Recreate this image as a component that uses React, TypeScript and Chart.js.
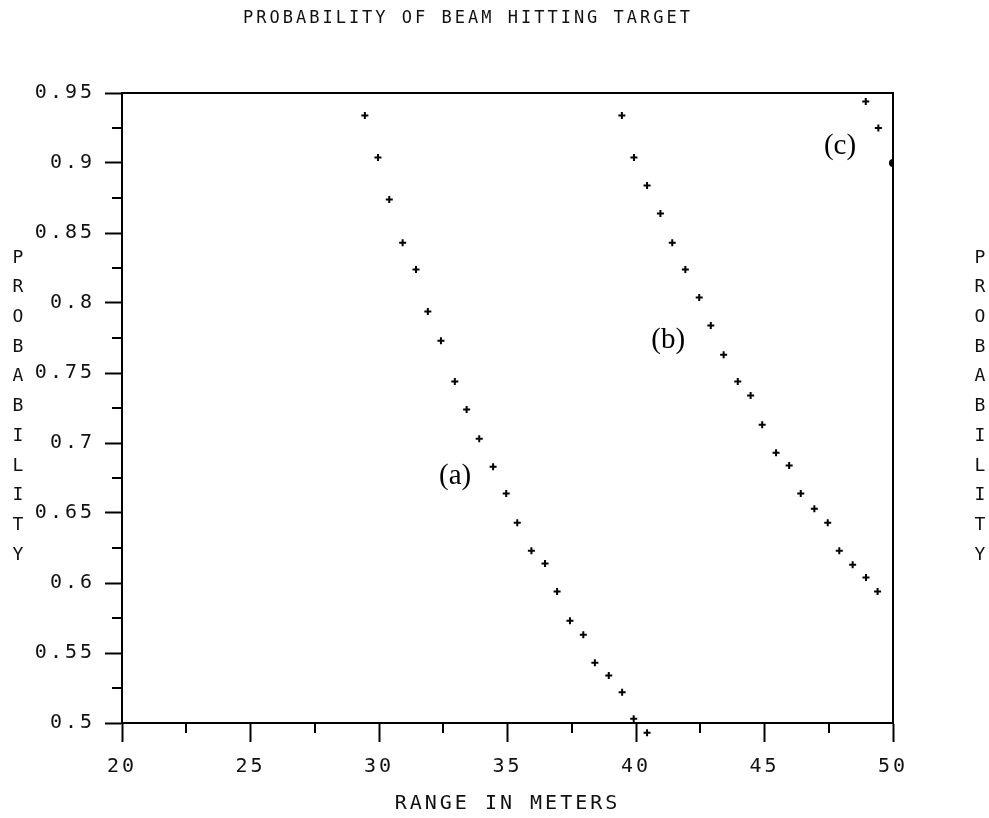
import React, { useEffect, useRef } from 'react';
import { Chart, registerables } from 'chart.js';

Chart.register(...registerables);

// ---- data ----
const xTicks = [20, 25, 30, 35, 40, 45, 50];
const xTickLabels = ['20', '25', '30', '35', '40', '45', '50'];
const xMinorTicks = [22.5, 27.5, 32.5, 37.5, 42.5, 47.5];
const yTicks = [0.5, 0.55, 0.6, 0.65, 0.7, 0.75, 0.8, 0.85, 0.9, 0.95];
const yTickLabels = ['0.5', '0.55', '0.6', '0.65', '0.7', '0.75', '0.8', '0.85', '0.9', '0.95'];
const yMinorTicks = [0.525, 0.575, 0.625, 0.675, 0.725, 0.775, 0.825, 0.875, 0.925];

const seriesAX = [29.45, 29.96, 30.4, 30.92, 31.44, 31.9, 32.41, 32.95, 33.41, 33.9, 34.44, 34.95, 35.38, 35.93, 36.46, 36.93, 37.43, 37.95, 38.4, 38.94, 39.46, 39.91, 40.43];
const seriesAY = [0.934, 0.904, 0.874, 0.843, 0.824, 0.794, 0.773, 0.744, 0.724, 0.703, 0.683, 0.664, 0.643, 0.623, 0.614, 0.594, 0.573, 0.563, 0.543, 0.534, 0.522, 0.503, 0.493];

const seriesBX = [39.45, 39.92, 40.43, 40.95, 41.41, 41.92, 42.46, 42.91, 43.41, 43.96, 44.46, 44.91, 45.45, 45.96, 46.41, 46.94, 47.46, 47.91, 48.43, 48.95, 49.4];
const seriesBY = [0.934, 0.904, 0.884, 0.864, 0.843, 0.824, 0.804, 0.784, 0.763, 0.744, 0.734, 0.713, 0.693, 0.684, 0.664, 0.653, 0.643, 0.623, 0.613, 0.604, 0.594];

const seriesCX = [48.94, 49.43];
const seriesCY = [0.944, 0.925];
const endDotX = [50];
const endDotY = [0.9];

const curveLabels = ['(a)', '(b)', '(c)'];
const curveLabelX = [32.96, 41.25, 47.94];
const curveLabelY = [0.676, 0.773, 0.912];

const titleText = 'PROBABILITY OF BEAM HITTING TARGET';
const xTitleText = 'RANGE IN METERS';
const yTitleText = 'PROBABILITY';

const MONO = '"DejaVu Sans Mono", "Liberation Mono", monospace';
const SERIF = '"Liberation Serif", "DejaVu Serif", serif';
const SPACING = '3px';

const toPoints = (xs: number[], ys: number[]) => xs.map((x, i) => ({ x, y: ys[i] }));

const spacingPlugin = {
  id: 'spacingPlugin',
  beforeLayout(chart: any) {
    chart.ctx.letterSpacing = SPACING;
  },
  beforeDraw(chart: any) {
    chart.ctx.letterSpacing = SPACING;
  },
  // let the out-of-range last point of curve (a) be drawn below the axis
  beforeDatasetDraw(chart: any, args: any) {
    if (args.index === 0) {
      chart.$savedArea = chart.chartArea;
      chart.chartArea = { ...chart.chartArea, bottom: chart.chartArea.bottom + 30 };
    }
  },
  afterDatasetDraw(chart: any, args: any) {
    if (args.index === 0 && chart.$savedArea) {
      chart.chartArea = chart.$savedArea;
      chart.$savedArea = null;
    }
  },
};

const decorPlugin = {
  id: 'decorPlugin',
  afterDraw(chart: any) {
    const ctx = chart.ctx as CanvasRenderingContext2D;
    const { left, right, top, bottom } = chart.chartArea;
    const xs = chart.scales.x;
    const ys = chart.scales.y;
    ctx.save();
    ctx.strokeStyle = '#000';
    ctx.lineWidth = 2;
    // frame top & right
    ctx.beginPath();
    ctx.moveTo(left, top);
    ctx.lineTo(right, top);
    ctx.lineTo(right, bottom);
    ctx.stroke();
    // minor ticks
    ctx.beginPath();
    xMinorTicks.forEach((v) => {
      const px = Math.round(xs.getPixelForValue(v));
      ctx.moveTo(px, bottom);
      ctx.lineTo(px, bottom + 10);
    });
    yMinorTicks.forEach((v) => {
      const py = Math.round(ys.getPixelForValue(v));
      ctx.moveTo(left, py);
      ctx.lineTo(left - 10, py);
    });
    ctx.stroke();

    ctx.fillStyle = '#111';
    ctx.textAlign = 'center';
    ctx.textBaseline = 'middle';

    // chart title
    (ctx as any).letterSpacing = SPACING;
    ctx.font = `17px ${MONO}`;
    ctx.fillText(titleText, 468, 19);

    // vertical stacked axis titles
    (ctx as any).letterSpacing = '0px';
    ctx.font = `18px ${MONO}`;
    const letters = yTitleText.split('');
    const startY = 258;
    const step = 29.7;
    letters.forEach((ch, i) => {
      ctx.fillText(ch, 18, startY + i * step);
      ctx.fillText(ch, 980, startY + i * step);
    });

    // curve labels
    ctx.font = `29px ${SERIF}`;
    ctx.fillStyle = '#000';
    curveLabels.forEach((t, i) => {
      ctx.fillText(t, xs.getPixelForValue(curveLabelX[i]), ys.getPixelForValue(curveLabelY[i]));
    });
    ctx.restore();
  },
};

export default function App() {
  const ref = useRef<HTMLCanvasElement | null>(null);

  useEffect(() => {
    if (!ref.current) return;
    const crossStyle = {
      pointStyle: 'cross' as const,
      pointRadius: 3.5,
      pointBorderWidth: 2,
      pointBorderColor: '#000',
      pointBackgroundColor: '#000',
      showLine: false,
    };
    const chart = new Chart(ref.current, {
      type: 'scatter',
      data: {
        datasets: [
          { label: '(a)', data: toPoints(seriesAX, seriesAY), ...crossStyle, clip: false } as any,
          { label: '(b)', data: toPoints(seriesBX, seriesBY), ...crossStyle, clip: false } as any,
          { label: '(c)', data: toPoints(seriesCX, seriesCY), ...crossStyle, clip: false } as any,
          {
            label: '(c) end',
            data: toPoints(endDotX, endDotY),
            pointStyle: 'circle',
            pointRadius: 4,
            pointBorderWidth: 0,
            pointBackgroundColor: '#000',
            showLine: false,
            clip: 0,
          } as any,
        ],
      },
      options: {
        responsive: false,
        animation: false,
        devicePixelRatio: 1,
        layout: { padding: { left: 0, right: 96, top: 93, bottom: 0 } },
        plugins: {
          legend: { display: false },
          tooltip: { enabled: false },
          title: { display: false },
        },
        scales: {
          x: {
            type: 'linear',
            min: 20,
            max: 50,
            afterBuildTicks: (s: any) => {
              s.ticks = xTicks.map((v) => ({ value: v }));
            },
            afterFit: (s: any) => {
              s.height = 95;
            },
            ticks: {
              autoSkip: false,
              maxRotation: 0,
              color: '#111',
              padding: 13,
              font: { family: MONO, size: 20 },
              callback: (_v: any, i: number) => xTickLabels[i],
            },
            grid: { drawOnChartArea: false, drawTicks: true, tickLength: 19, tickWidth: 2, tickColor: '#000' },
            border: { display: true, color: '#000', width: 2 },
            title: {
              display: true,
              text: xTitleText,
              color: '#111',
              font: { family: MONO, size: 20 },
              padding: { top: 0, bottom: 2 },
            },
          },
          y: {
            type: 'linear',
            min: 0.5,
            max: 0.95,
            afterBuildTicks: (s: any) => {
              s.ticks = yTicks.map((v) => ({ value: v }));
            },
            afterFit: (s: any) => {
              s.width = 122;
            },
            ticks: {
              autoSkip: false,
              color: '#111',
              padding: 10,
              font: { family: MONO, size: 20 },
              callback: (_v: any, i: number) => yTickLabels[i],
            },
            grid: { drawOnChartArea: false, drawTicks: true, tickLength: 17, tickWidth: 2, tickColor: '#000' },
            border: { display: true, color: '#000', width: 2 },
          },
        },
      },
      plugins: [spacingPlugin, decorPlugin],
    });
    return () => chart.destroy();
  }, []);

  return (
    <div style={{ position: 'fixed', left: 0, top: 0, width: 989, height: 818, background: '#fff' }}>
      <canvas ref={ref} width={989} height={818} style={{ display: 'block' }} />
    </div>
  );
}
